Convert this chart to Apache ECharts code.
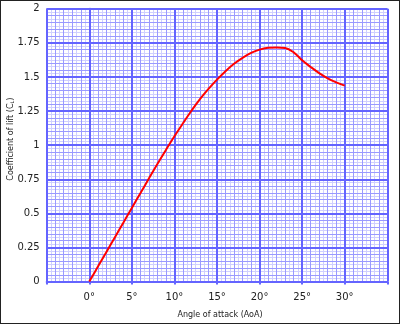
<!DOCTYPE html>
<html>
<head>
<meta charset="utf-8">
<script src="https://cdn.jsdelivr.net/npm/echarts@6/dist/echarts.min.js"></script>
<style>
html,body{margin:0;padding:0;background:#fff;}
#c{width:400px;height:324px;}
</style>
</head>
<body>
<div id="c"></div>
<script>
// Data
const angles = [0,1,2,3,4,5,6,7,8,9,10,11,12,13,14,15,16,17,18,19,20,21,22,23,24,25,26,27,28,29,30];
const liftCoef = [0,0.108,0.216,0.324,0.432,0.54,0.647,0.755,0.862,0.965,1.065,1.16,1.252,1.337,1.412,1.48,1.542,1.596,1.64,1.676,1.70,1.713,1.716,1.712,1.68,1.622,1.573,1.528,1.49,1.46,1.436];
const xTickLabels = ['0°','5°','10°','15°','20°','25°','30°'];
const yTickLabels = ['0','0.25','0.5','0.75','1','1.25','1.5','1.75','2'];

const FONT = 'DejaVu Sans';
const majorColor = '#6464ff';
const midColor = '#9a9aff';
const lightColor = '#d0d0ff';

const chart = echarts.init(document.getElementById('c'), null, {renderer:'canvas'});

function gridAxisX(interval, color, width, z) {
  return {
    type:'value', min:-5, max:35, interval:interval, z:z,
    axisLine:{show:false}, axisTick:{show:false}, axisLabel:{show:false},
    splitLine:{show:true, lineStyle:{color:color, width:width}}
  };
}
function gridAxisY(interval, color, width, z) {
  return {
    type:'value', min:0, max:2, interval:interval, z:z,
    axisLine:{show:false}, axisTick:{show:false}, axisLabel:{show:false},
    splitLine:{show:true, lineStyle:{color:color, width:width}}
  };
}

chart.setOption({
  backgroundColor:'#fff',
  animation:false,
  grid:{left:46.7, right:12.7, top:8.7, bottom:42.4, containLabel:false, outerBoundsMode:'none'},
  graphic:[{
    type:'rect', shape:{x:0, y:0, width:400, height:324},
    style:{fill:'none', stroke:'#222', lineWidth:2}, z:100
  }],
  xAxis:[
    {
      type:'value', min:-5, max:35, interval:5, z:5,
      name:'Angle of attack (AoA)', nameLocation:'middle', nameGap:29, nameMoveOverlap:false,
      nameTextStyle:{fontFamily:FONT, fontSize:8, color:'#222', padding:[0,0,0,6]},
      axisLine:{show:true, onZero:false, lineStyle:{color:majorColor, width:2}},
      axisTick:{show:true, length:3, lineStyle:{color:majorColor, width:2}},
      axisLabel:{
        margin:11, fontFamily:FONT, fontSize:10, color:'#222',
        formatter:function(v){ const i = Math.round(v/5); return (v>=0 && v<=30) ? xTickLabels[i] : ''; }
      },
      splitLine:{show:true, lineStyle:{color:majorColor, width:2}}
    },
    gridAxisX(1, midColor, 1, 3),
    gridAxisX(0.5, lightColor, 1, 2)
  ],
  yAxis:[
    {
      type:'value', min:0, max:2, interval:0.25, z:5,
      name:'{a|Coefficient of lift (C}{s|L}{a|)}', nameLocation:'middle', nameGap:31, nameMoveOverlap:false,
      nameTextStyle:{fontFamily:FONT, fontSize:8, color:'#222', padding:[0,0,0,12],
        rich:{a:{fontFamily:FONT, fontSize:8, color:'#222'}, s:{fontFamily:FONT, fontSize:5, color:'#222', verticalAlign:'bottom', padding:[4,0,0,0]}}},
      axisLine:{show:true, lineStyle:{color:majorColor, width:2}},
      axisTick:{show:true, length:3, lineStyle:{color:majorColor, width:2}},
      axisLabel:{
        margin:7, fontFamily:FONT, fontSize:10, color:'#222',
        formatter:function(v){ return yTickLabels[Math.round(v/0.25)]; }
      },
      splitLine:{show:true, lineStyle:{color:majorColor, width:2}}
    },
    gridAxisY(0.05, midColor, 1, 3),
    gridAxisY(0.025, lightColor, 1, 2)
  ],
  series:[{
    type:'line', xAxisIndex:0, yAxisIndex:0, z:10,
    data: angles.map((a,i)=>[a, liftCoef[i]]),
    smooth:0.4, showSymbol:false, symbol:'none',
    lineStyle:{color:'#ff0000', width:2}
  }]
});
</script>
</body>
</html>
